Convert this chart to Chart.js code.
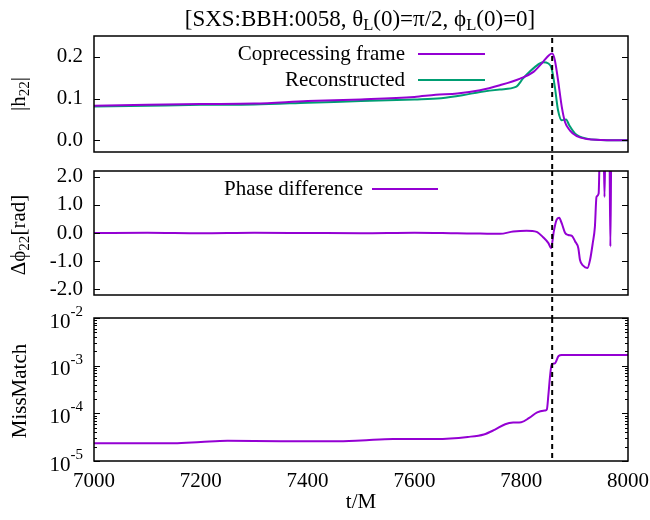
<!DOCTYPE html>
<html>
<head>
<meta charset="utf-8">
<script src="https://cdn.jsdelivr.net/npm/chart.js@4.4.1/dist/chart.umd.min.js"></script>
<style>
  body { margin: 0; background: #fff; }
  #wrap { position: relative; width: 650px; height: 520px; font-family: "Liberation Serif", serif; color: #000; }
  #wrap canvas { position: absolute; left: 0; top: 0; }
  .lbl { position: absolute; font-size: 21px; white-space: nowrap; line-height: 1; transform: translate(-50%, -50%); }
  .rot { transform: translate(-50%, -50%) rotate(-90deg); }
  sub { font-size: 0.72em; vertical-align: -0.3em; line-height: 0; }
</style>
</head>
<body>
<div id="wrap">
  <canvas id="amp" width="650" height="520"></canvas>
  <canvas id="phase" width="650" height="520"></canvas>
  <canvas id="mm" width="650" height="520"></canvas>
  <div class="lbl" style="left:360px; top:18px; font-size:23px">[SXS:BBH:0058, θ<sub>L</sub>(0)=π/2, ϕ<sub>L</sub>(0)=0]</div>
  <div class="lbl rot" style="left:18px; top:94px">|h<sub>22</sub>|</div>
  <div class="lbl rot" style="left:18px; top:235px">Δϕ<sub>22</sub>[rad]</div>
  <div class="lbl rot" style="left:19px; top:391px">MissMatch</div>
</div>
<script>
// tick labels
const xTicks = [7000, 7200, 7400, 7600, 7800, 8000];
const ampTicks = [0.0, 0.1, 0.2];
const phaseTicks = [-2.0, -1.0, 0.0, 1.0, 2.0];
const mmTicks = [1e-5, 1e-4, 1e-3, 1e-2];
const mergerTime = 7858;

// |h22| coprecessing frame
const coprecTime = [7000, 7100, 7200, 7300, 7400, 7500, 7600, 7640, 7680, 7723, 7760, 7798, 7823, 7841, 7852, 7858, 7863, 7869, 7876, 7882, 7891, 7904, 7923, 7948, 7970, 8000];
const coprecAmp  = [0.083, 0.085, 0.087, 0.088, 0.094, 0.098, 0.104, 0.109, 0.112, 0.120, 0.132, 0.148, 0.164, 0.188, 0.204, 0.208, 0.192, 0.144, 0.080, 0.044, 0.024, 0.010, 0.003, 0.001, 0.0, 0.0];
// |h22| reconstructed
const reconTime = [7000, 7100, 7200, 7300, 7400, 7500, 7600, 7650, 7690, 7723, 7760, 7790, 7804, 7826, 7841, 7851, 7857, 7863, 7869, 7876, 7884, 7890, 7901, 7923, 7948, 7970, 8000];
const reconAmp  = [0.081, 0.083, 0.085, 0.086, 0.090, 0.094, 0.098, 0.101, 0.108, 0.116, 0.122, 0.128, 0.149, 0.176, 0.187, 0.184, 0.172, 0.128, 0.072, 0.048, 0.050, 0.036, 0.016, 0.004, 0.001, 0.0, 0.0];

// phase difference
const phaseTime = [7000, 7100, 7200, 7300, 7400, 7500, 7600, 7680, 7723, 7760, 7785, 7810, 7829, 7841, 7851, 7856, 7861, 7866, 7871, 7876, 7882, 7888, 7895, 7901, 7907, 7910, 7916, 7924, 7929, 7934, 7938, 7941, 7945, 7948, 7954, 7956, 7958, 7965, 7967, 7969, 8000];
const phaseDiff = [0.0, 0.01, -0.01, 0.01, 0.0, -0.01, 0.01, -0.01, -0.02, -0.03, 0.05, 0.08, 0.04, -0.15, -0.36, -0.54, 0.05, 0.46, 0.54, 0.34, 0.01, -0.07, -0.10, -0.30, -0.54, -0.95, -1.16, -1.24, -0.95, -0.36, 0.22, 1.28, 1.40, 3.5, 3.5, 1.28, 3.5, 3.5, -0.48, 3.5, 3.5];

// mismatch
const mmTime = [7000, 7100, 7150, 7200, 7250, 7350, 7450, 7500, 7560, 7640, 7700, 7730, 7750, 7770, 7785, 7800, 7815, 7830, 7845, 7848, 7851, 7854, 7857, 7863, 7870, 7876, 8000];
const mismatch = [2.35e-5, 2.35e-5, 2.35e-5, 2.5e-5, 2.65e-5, 2.6e-5, 2.6e-5, 2.7e-5, 2.9e-5, 2.9e-5, 3.2e-5, 3.6e-5, 4.5e-5, 5.9e-5, 6.4e-5, 6.5e-5, 8e-5, 1.05e-4, 1.15e-4, 1.2e-4, 2.5e-4, 6e-4, 1.05e-3, 1.12e-3, 1.6e-3, 1.68e-3, 1.68e-3];

const purple = '#9400d3';
const green = '#009e73';
const FONT = '"Liberation Serif", serif';

const pts = (xs, ys) => xs.map((x, i) => ({ x: x, y: ys[i] }));

// gnuplot style border, inward ticks, dashed merger line and key
const frame = {
  id: 'frame',
  afterDatasetsDraw(chart, args, opts) {
    const { ctx, chartArea: a, scales } = chart;
    const y = scales.y;
    ctx.save();
    const xm = scales.x.getPixelForValue(mergerTime);
    ctx.strokeStyle = '#000';
    ctx.lineWidth = 2;
    ctx.setLineDash([5, 4]);
    ctx.beginPath();
    ctx.moveTo(xm, opts.dashFrom);
    ctx.lineTo(xm, opts.dashTo);
    ctx.stroke();
    ctx.setLineDash([]);

    ctx.lineWidth = 1.5;
    ctx.strokeRect(a.left, a.top, a.right - a.left, a.bottom - a.top);
    const tick = (v, len) => {
      const p = Math.round(y.getPixelForValue(v)) + 0.5;
      ctx.beginPath();
      ctx.moveTo(a.left, p); ctx.lineTo(a.left + len, p);
      ctx.moveTo(a.right, p); ctx.lineTo(a.right - len, p);
      ctx.stroke();
    };
    ctx.lineWidth = 1;
    opts.ticks.forEach(v => tick(v, 6));
    if (opts.log) {
      for (let i = 0; i < opts.ticks.length - 1; i++) {
        for (let m = 2; m <= 9; m++) tick(opts.ticks[i] * m, 3);
      }
      // 10^n labels
      ctx.fillStyle = '#000';
      ctx.textBaseline = 'middle';
      ctx.textAlign = 'left';
      opts.ticks.forEach(v => {
        const p = y.getPixelForValue(v);
        const sup = String(Math.round(Math.log10(v)));
        ctx.font = '15px ' + FONT;
        const w2 = ctx.measureText(sup).width;
        ctx.font = '21px ' + FONT;
        const w1 = ctx.measureText('10').width;
        const x0 = a.left - 11 - w1 - w2;
        ctx.fillText('10', x0, p + 4);
        ctx.font = '15px ' + FONT;
        ctx.fillText(sup, x0 + w1, p - 6);
      });
    }

    if (opts.key) {
      const k = opts.key;
      ctx.font = '21px ' + FONT;
      ctx.textAlign = 'right';
      ctx.textBaseline = 'middle';
      chart.data.datasets.forEach((ds, i) => {
        const ky = k.top + i * k.gap;
        ctx.fillStyle = '#000';
        ctx.fillText(ds.label, k.right, ky);
        ctx.strokeStyle = ds.borderColor;
        ctx.lineWidth = 2;
        ctx.beginPath();
        ctx.moveTo(k.x1, ky); ctx.lineTo(k.x2, ky);
        ctx.stroke();
      });
    }
    ctx.restore();
  }
};

function yAxis(min, max, ticks, fmt, showLabels) {
  return {
    type: 'linear', min: min, max: max,
    afterBuildTicks: s => { s.ticks = ticks.map(v => ({ value: v })); },
    afterFit: s => { s.width = 94; },
    grid: { display: false, drawTicks: false },
    border: { display: false },
    ticks: { display: showLabels, color: '#000', padding: 11, font: { family: FONT, size: 21 }, callback: fmt }
  };
}

function hiddenX() {
  return { type: 'linear', min: 7000, max: 8000, display: false };
}

function lineSet(label, data, color) {
  return { label: label, data: data, borderColor: color, borderWidth: 2, pointRadius: 0, fill: false, cubicInterpolationMode: 'monotone' };
}

Chart.defaults.animation = false;

new Chart(document.getElementById('amp'), {
  type: 'line',
  data: { datasets: [
    lineSet('Coprecessing frame', pts(coprecTime, coprecAmp), purple),
    lineSet('Reconstructed', pts(reconTime, reconAmp), green)
  ] },
  options: {
    responsive: false,
    layout: { padding: { top: 36, bottom: 368, left: 0, right: 22 } },
    scales: { x: hiddenX(), y: yAxis(-0.028, 0.25, ampTicks, v => v.toFixed(1), true) },
    plugins: { legend: { display: false }, tooltip: { enabled: false },
      frame: { ticks: ampTicks, dashFrom: 38, dashTo: 171, key: { right: 405, top: 54, gap: 26, x1: 418, x2: 485 } } }
  },
  plugins: [frame]
});

new Chart(document.getElementById('phase'), {
  type: 'line',
  data: { datasets: [ lineSet('Phase difference', pts(phaseTime, phaseDiff), purple) ] },
  options: {
    responsive: false,
    layout: { padding: { top: 171, bottom: 225, left: 0, right: 22 } },
    scales: { x: hiddenX(), y: yAxis(-2.2, 2.2, phaseTicks, v => v.toFixed(1), true) },
    plugins: { legend: { display: false }, tooltip: { enabled: false },
      frame: { ticks: phaseTicks, dashFrom: 171, dashTo: 318, key: { right: 363, top: 189, gap: 26, x1: 372, x2: 438 } } }
  },
  plugins: [frame]
});

const mmY = yAxis(1e-5, 1e-2, mmTicks, v => v, false);
mmY.type = 'logarithmic';

new Chart(document.getElementById('mm'), {
  type: 'line',
  data: { datasets: [ lineSet('MissMatch', pts(mmTime, mismatch), purple) ] },
  options: {
    responsive: false,
    layout: { padding: { top: 318, bottom: 0, left: 0, right: 22 } },
    scales: {
      x: {
        type: 'linear', min: 7000, max: 8000,
        afterBuildTicks: s => { s.ticks = xTicks.map(v => ({ value: v })); },
        afterFit: s => { s.height = 59; s.paddingLeft = 0; s.paddingRight = 0; },
        grid: { display: false, drawTicks: false },
        border: { display: false },
        ticks: { color: '#000', padding: 8, maxRotation: 0, font: { family: FONT, size: 21 }, callback: v => String(v) },
        title: { display: true, text: 't/M', color: '#000', font: { family: FONT, size: 21 }, padding: { top: 0, bottom: 5 } }
      },
      y: mmY
    },
    plugins: { legend: { display: false }, tooltip: { enabled: false },
      frame: { ticks: mmTicks, log: true, dashFrom: 318, dashTo: 461 } }
  },
  plugins: [frame]
});
</script>
</body>
</html>
